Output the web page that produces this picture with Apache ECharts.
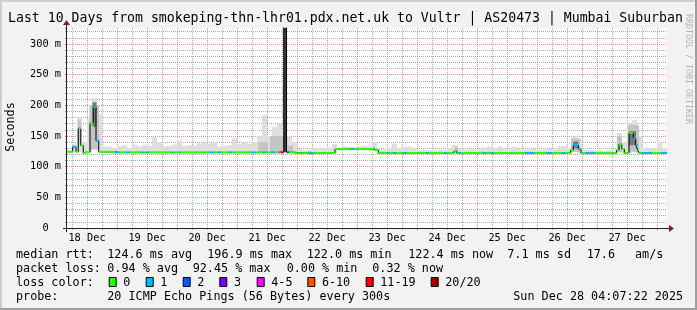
<!DOCTYPE html>
<html><head><meta charset="utf-8">
<script src="https://cdn.jsdelivr.net/npm/echarts@6/dist/echarts.min.js"></script>
<style>html,body{margin:0;padding:0;background:#f2f2f2}#c{width:697px;height:310px}</style>
</head><body><div id="c"></div>
<script>
// ---------------- DATA ----------------
const titleText = 'Last 10 Days from smokeping-thn-lhr01.pdx.net.uk to Vultr | AS20473 | Mumbai Suburban';
const yAxisName = 'Seconds';
const dayLabels = ['18 Dec','19 Dec','20 Dec','21 Dec','22 Dec','23 Dec','24 Dec','25 Dec','26 Dec','27 Dec'];
const startHourOfDay = 4;      // x axis starts 18 Dec 04:00, x unit = hours
const spanHours = 240;
const yMax = 326.1;            // ms at top of plot

// median rtt (ms) as steps: start hour, value, loss class (index into lossLabels)
const medStart = [0.0,2.3,3.6,4.5,5.5,6.5,7.2,9.2,10.5,11.6,12.7,19.2,20.9,23.6,24.9,29.9,30.9,31.9,32.8,41.9,42.5,44.8,45.6,56.8,58.9,60.5,61.5,64.9,65.9,73.6,75.6,78.5,79.5,81.6,83.2,84.8,85.6,86.7,87.8,88.9,91.1,96.5,97.1,98.5,107.2,113.5,114.8,122.5,123.2,124.5,128.1,128.9,130.5,131.5,134.5,135.6,143.6,144.7,150.9,151.9,154.8,155.9,156.5,157.5,166.5,167.6,169.5,170.5,183.2,186.9,191.9,193.9,197.9,199.2,201.5,202.5,204.5,205.6,207.2,211.2,219.9,220.8,221.9,222.9,224.8,226.5,227.5,228.3,228.8,229.9,233.9,237.6];
const medValue = [124.4,132.6,124.4,162.5,134.5,122.2,123.6,170.7,196.9,142.4,124.2,123.2,123.2,123.2,123.2,123.2,123.2,123.2,123.2,123.2,123.2,123.2,123.2,123.2,123.2,123.2,123.2,123.2,123.2,123.2,123.2,123.2,123.2,123.2,123.2,123.4,123.4,400,123.4,123.4,122.0,123.5,122.0,122.2,128.6,128.6,128.6,130.0,127.0,122.2,122.2,122.2,122.2,122.2,122.2,122.2,122.2,122.2,122.2,122.2,125.5,122.2,122.2,122.2,122.2,122.2,122.2,122.2,122.2,122.2,122.2,122.2,122.2,122.2,127.0,135.3,128.5,122.0,122.0,122.0,127.0,136.5,128.8,122.2,155.0,146.0,135.0,127.0,122.2,122.2,122.2,122.4];
const medLoss  = [0,1,0,0,0,0,0,0,1,1,0,1,0,1,0,1,0,1,0,1,0,1,0,1,0,1,0,1,0,1,0,1,0,1,0,4,6,6,2,0,0,0,1,0,0,1,0,0,0,0,1,0,1,0,1,0,1,0,1,0,0,0,1,0,1,0,1,0,1,0,1,0,1,0,0,1,1,0,1,0,0,0,0,0,0,1,1,0,0,1,0,1];

// light smoke: top of ping spread (ms), 2-hour buckets
const smokeBucketHours = 2;
const smokeHi = [126,136,180,140,178,211,185,133,133,131,
 133,135,130,136,133,135,134,148,140,133,
 134,136,143,134,135,135,138,141,138,141,
 133,134,135,146,137,140,137,140,149,184,
 150,165,170,160,149,140,129,127,128,130,
 130,131,131,137,131,133,132,132,133,134,
 133,140,129,128,131,138,130,132,133,130,
 127,128,127,127,128,127,130,135,130,128,
 128,129,128,131,132,130,133,131,129,132,
 129,128,128,129,128,128,129,128,133,134,
 131,149,145,127,127,127,127,126,127,128,
 155,140,170,176,150,130,131,130,140,131];

// denser smoke (more pings concentrated): start hour, end hour, low ms, high ms, density level
const denseStart = [4.5,9.0,10.2,76.4,81.2,86.7,87.8,155.2,201.6,202.5,219.9,224.3,224.8];
const denseEnd   = [5.5,12.8,11.8,80.4,86.7,87.8,90.4,156.4,205.2,204.5,222.0,228.8,227.6];
const denseLo    = [140,128,165,124,124,124,124,123,124,130,124,124,135];
const denseHi    = [175,200,205,140,150,400,134,133,146,141,150,168,158];
const denseLevel = [1,1,2,1,1,3,1,1,1,2,1,1,2];

const lossLabels = ['0','1','2','3','4-5','6-10','11-19','20/20'];
const lossColors = ['#26ff00','#00b8ff','#0059ff','#7e00ff','#ff00ff','#ff5500','#ff0000','#a10000'];

const yMajorTickLabel = v => (v === 0 ? '0  ' : v + ' m');
const rttStats  = ['124.6 ms avg','196.9 ms max','122.0 ms min','122.4 ms now','7.1 ms sd','17.6','am/s'];
const lossStats = ['0.94 % avg','92.45 % max','0.00 % min','0.32 % now'];
const probeText = '20 ICMP Echo Pings (56 Bytes) every 300s';
const stampText = 'Sun Dec 28 04:07:22 2025';
const watermark = 'RRDTOOL / TOBI OETIKER';

// ---------------- STYLE / LAYOUT ----------------
const MONO = '"DejaVu Sans Mono", monospace';
const GL = 67, GT = 28, GW = 600, GH = 200;
const GRID_C = 'rgba(143,143,143,0.75)';
const MGRID_C = 'rgba(222,79,79,0.6)';
const AXIS_C = '#1f1f1f';
const ARROW_C = '#7f1f1f';
const shade = ['#dedede','#c4c4c4','#777777','#3a3a3a'];

// ---------------- BUILD ----------------
const nSeg = medStart.length;
const segEnd = i => (i + 1 < nSeg ? medStart[i + 1] : spanHours);
const medLine = [];
const medMarks = [];
for (let i = 0; i < nSeg; i++) {
  medLine.push([medStart[i], medValue[i]], [segEnd(i), medValue[i]]);
  medMarks.push([medStart[i], segEnd(i), medValue[i], medLoss[i]]);
}
function minMedian(t0, t1) {
  let m = Infinity;
  for (let i = 0; i < nSeg; i++) if (medStart[i] < t1 && segEnd(i) > t0) m = Math.min(m, medValue[i]);
  return m;
}
const smokeRows = smokeHi.map((hi, i) => {
  const t0 = i * smokeBucketHours, t1 = t0 + smokeBucketHours;
  return [t0, t1, minMedian(t0, t1) - 0.5, hi, 0];
});
denseStart.forEach((s, i) => smokeRows.push([s, denseEnd[i], denseLo[i], denseHi[i], denseLevel[i]]));

const cats = [];
for (let i = 0; i <= spanHours; i++) cats.push(String(i));
const hod = i => (startHourOfDay + i) % 24;
const isMinor = i => hod(i) % 6 === 0 && hod(i) !== 0;
const isMajor = i => hod(i) === 0;

function clip(shape, params) {
  return echarts.graphic.clipRectByRect(shape, {
    x: params.coordSys.x, y: params.coordSys.y, width: params.coordSys.width, height: params.coordSys.height
  });
}

const chart = echarts.init(document.getElementById('c'), null, {renderer: 'canvas', width: 697, height: 310});

const textEl = (text, x, y, extra) => Object.assign({
  type: 'text', x: x, y: y, silent: true,
  style: {text: text, font: '11.75px ' + MONO, fill: '#000', verticalAlign: 'middle', align: 'left'}
}, extra || {});

const graphics = [
  {type: 'rect', shape: {x: 0, y: 0, width: 697, height: 2}, style: {fill: '#cfcfcf'}, silent: true},
  {type: 'rect', shape: {x: 0, y: 0, width: 2, height: 310}, style: {fill: '#cfcfcf'}, silent: true},
  {type: 'rect', shape: {x: 0, y: 308, width: 697, height: 2}, style: {fill: '#9e9e9e'}, silent: true},
  {type: 'rect', shape: {x: 695, y: 0, width: 2, height: 310}, style: {fill: '#9e9e9e'}, silent: true},
  {type: 'line', shape: {x1: 63, y1: 228.5, x2: 670, y2: 228.5}, style: {stroke: AXIS_C, lineWidth: 1}, z: 50, silent: true},
  {type: 'line', shape: {x1: 66.5, y1: 232, x2: 66.5, y2: 24}, style: {stroke: AXIS_C, lineWidth: 1}, z: 50, silent: true},
  {type: 'polygon', shape: {points: [[669, 225], [674, 228.5], [669, 232]]}, style: {fill: ARROW_C}, z: 51, silent: true},
  {type: 'polygon', shape: {points: [[63, 25], [66.5, 20], [70, 25]]}, style: {fill: ARROW_C}, z: 51, silent: true},
  textEl(titleText, 8, 18.5, {style: {text: titleText, font: '13.2px ' + MONO, fill: '#000', verticalAlign: 'middle'}}),
  textEl(yAxisName, 10.5, 127, {rotation: Math.PI / 2, style: {text: yAxisName, font: '11.75px ' + MONO, fill: '#000', verticalAlign: 'middle', align: 'center'}}),
  textEl(watermark, 688, 14, {rotation: -Math.PI / 2, style: {text: watermark, font: '8.3px ' + MONO, fill: '#b4b4b4', verticalAlign: 'middle', align: 'left'}}),
  textEl('median rtt:', 16, 254.5),
  textEl('packet loss:', 16, 268.5),
  textEl('loss color:', 16, 282.5),
  textEl('probe:', 16, 296.5),
  textEl(probeText, 107.3, 296.5),
  textEl(stampText, 513.3, 296.5)
];
const rttX = [107.3, 207.3, 306.7, 408.3, 507.3, 586.7, 635];
rttStats.forEach((t, i) => graphics.push(textEl(t, rttX[i], 254.5)));
const lossX = [107.3, 192.7, 286.7, 372.3];
lossStats.forEach((t, i) => graphics.push(textEl(t, lossX[i], 268.5)));
const boxX = [108.7, 145.7, 182.7, 219.3, 256.7, 307.3, 365.7, 430.7];
lossLabels.forEach((t, i) => {
  graphics.push({type: 'rect', shape: {x: boxX[i] + 0.5, y: 277.5, width: 7, height: 9}, style: {fill: lossColors[i], stroke: '#000', lineWidth: 1}, silent: true});
  graphics.push(textEl(t, boxX[i] + 14.6, 282.5));
});

chart.setOption({
  animation: false,
  backgroundColor: '#f2f2f2',
  grid: {left: GL, top: GT, width: GW, height: GH, show: true, backgroundColor: '#ffffff', borderWidth: 0},
  xAxis: [
    {type: 'value', position: 'bottom', min: 0, max: spanHours, axisLine: {show: false}, axisTick: {show: false}, axisLabel: {show: false}, splitLine: {show: false}},
    {type: 'category', position: 'bottom', data: cats, boundaryGap: false, axisLine: {show: false},
      axisTick: {show: true, interval: i => isMinor(i), length: 2, lineStyle: {color: GRID_C}},
      axisLabel: {interval: i => hod(i) === 12, margin: 5, fontFamily: MONO, fontSize: 10.3, color: '#000',
        formatter: (v, idx) => dayLabels[Math.floor((startHourOfDay + idx) / 24)] || ''},
      splitLine: {show: true, interval: i => isMinor(i), lineStyle: {color: GRID_C, type: [1, 1], width: 1}}},
    {type: 'category', position: 'bottom', data: cats, boundaryGap: false, axisLine: {show: false},
      axisTick: {show: true, interval: i => isMajor(i), length: 2, lineStyle: {color: MGRID_C}},
      axisLabel: {show: false},
      splitLine: {show: true, interval: i => isMajor(i), lineStyle: {color: MGRID_C, type: [1, 1], width: 1}}}
  ],
  yAxis: [
    {type: 'value', position: 'left', min: 0, max: yMax, interval: 10, axisLine: {show: false},
      axisTick: {show: true, length: 2, lineStyle: {color: GRID_C}}, axisLabel: {show: false},
      splitLine: {show: true, showMinLine: false, showMaxLine: false,
        lineStyle: {color: [GRID_C, GRID_C, GRID_C, GRID_C, 'rgba(0,0,0,0)'], type: [1, 1], width: 1}}},
    {type: 'value', position: 'left', min: 0, max: yMax, interval: 50, axisLine: {show: false},
      axisTick: {show: true, length: 2, lineStyle: {color: MGRID_C}},
      axisLabel: {margin: 6, showMaxLabel: false, fontFamily: MONO, fontSize: 10.3, color: '#000', formatter: yMajorTickLabel},
      splitLine: {show: true, showMinLine: false, showMaxLine: false, lineStyle: {color: MGRID_C, type: [1, 1], width: 1}}}
  ],
  series: [
    {type: 'custom', xAxisIndex: 0, yAxisIndex: 0, z: 2, silent: true, clip: true,
      data: smokeRows,
      renderItem: (params, api) => {
        const p0 = api.coord([api.value(0), api.value(3)]);
        const p1 = api.coord([api.value(1), api.value(2)]);
        const shape = clip({x: p0[0], y: p0[1], width: p1[0] - p0[0], height: p1[1] - p0[1]}, params);
        return shape && {type: 'rect', shape: shape, style: {fill: shade[api.value(4)]}};
      }},
    {type: 'line', xAxisIndex: 0, yAxisIndex: 0, z: 3, silent: true, data: medLine, showSymbol: false, symbol: 'none',
      clip: true, lineStyle: {color: '#000', width: 1}},
    {type: 'custom', xAxisIndex: 0, yAxisIndex: 0, z: 4, silent: true, clip: true,
      data: medMarks,
      renderItem: (params, api) => {
        const p0 = api.coord([api.value(0), api.value(2)]);
        const p1 = api.coord([api.value(1), api.value(2)]);
        const shape = clip({x: p0[0], y: p0[1] - 1, width: p1[0] - p0[0], height: 2}, params);
        return shape && {type: 'rect', shape: shape, style: {fill: lossColors[api.value(3)]}};
      }}
  ],
  graphic: {elements: graphics}
});
</script></body></html>
